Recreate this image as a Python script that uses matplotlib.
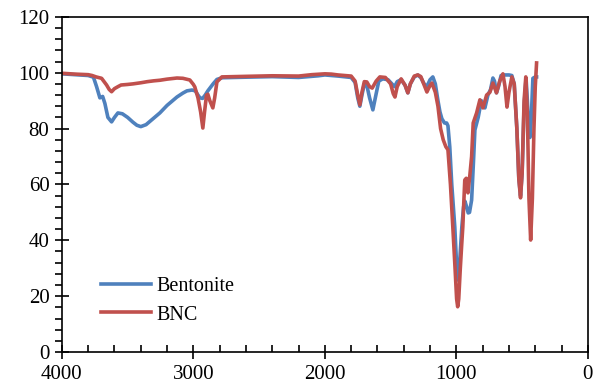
import matplotlib.pyplot as plt
from matplotlib.ticker import MultipleLocator

# wavenumber (cm-1) and transmittance (%)
bent_wn = [4000, 3900, 3800, 3760, 3736, 3711, 3690, 3673, 3650, 3622, 3600,
           3574, 3540, 3500, 3460, 3430, 3400, 3360, 3300, 3255, 3200, 3150,
           3125, 3080, 3049, 3010, 2985, 2965, 2950, 2930, 2910, 2890, 2874,
           2850, 2821, 2780, 2600, 2400, 2200, 2050, 2000, 1900, 1800, 1770,
           1750, 1734, 1718, 1700, 1681, 1660, 1635, 1612, 1590, 1560, 1520,
           1490, 1470, 1450, 1420, 1390, 1369, 1350, 1320, 1293, 1270, 1245,
           1225, 1200, 1179, 1160, 1140, 1125, 1110, 1090, 1074, 1064, 1050,
           1035, 1012, 1000, 990, 980, 970, 958, 945, 935, 922, 910, 900,
           884, 870, 859, 834, 810, 800, 783, 760, 740, 722, 710, 695, 680,
           660, 640, 600, 578, 560, 540, 525, 512, 500, 485, 470, 460, 450,
           441, 432, 418, 400, 390]
bent_t = [99.6, 99.3, 99.0, 98.4, 95.0, 91.0, 91.5, 89.0, 84.0, 82.4, 84.0,
          85.6, 85.3, 84.0, 82.3, 81.2, 80.7, 81.4, 83.8, 85.6, 88.3, 90.3,
          91.3, 92.7, 93.5, 93.8, 93.5, 92.0, 91.0, 90.8, 92.0, 93.5, 94.5,
          96.0, 97.6, 98.2, 98.4, 98.6, 98.3, 98.9, 99.2, 98.8, 98.3, 96.5,
          91.0, 88.0, 92.0, 96.0, 95.5, 91.0, 86.7, 92.0, 97.0, 97.8, 97.5,
          96.0, 95.0, 96.8, 97.5, 95.5, 92.8, 96.0, 98.5, 99.2, 98.2, 96.0,
          95.0, 97.5, 98.5, 96.0, 90.0, 86.0, 83.5, 82.0, 82.0, 81.0, 73.4,
          60.0, 44.8, 33.0, 25.8, 28.0, 36.0, 45.0, 52.0, 54.0, 52.0, 49.8,
          50.0, 54.4, 68.0, 79.5, 84.0, 90.0, 89.0, 87.4, 92.0, 94.0, 98.1,
          97.0, 92.8, 95.0, 99.0, 99.2, 99.2, 99.0, 96.0, 80.0, 62.0, 56.0,
          64.0, 88.0, 98.0, 90.0, 80.0, 76.8, 82.0, 98.0, 98.5, 98.5]

bnc_wn = [4000, 3900, 3800, 3770, 3740, 3698, 3660, 3640, 3622, 3600, 3574,
          3550, 3500, 3460, 3400, 3350, 3300, 3255, 3200, 3125, 3080, 3027,
          3000, 2989, 2965, 2945, 2928, 2915, 2900, 2890, 2875, 2852, 2838,
          2821, 2783, 2600, 2400, 2200, 2100, 2000, 1950, 1900, 1800, 1770,
          1750, 1734, 1718, 1700, 1681, 1660, 1640, 1610, 1582, 1540, 1500,
          1480, 1467, 1450, 1420, 1390, 1369, 1350, 1320, 1293, 1270, 1240,
          1224, 1205, 1186, 1160, 1140, 1120, 1100, 1080, 1064, 1045, 1027,
          1010, 998, 990, 982, 970, 960, 951, 943, 936, 925, 912, 898, 884,
          872, 846, 821, 798, 770, 745, 722, 695, 670, 646, 630, 615, 600,
          578, 560, 540, 525, 512, 500, 485, 472, 460, 448, 435, 422, 410,
          400, 390]
bnc_t = [99.8, 99.5, 99.3, 99.0, 98.5, 98.0, 95.6, 94.0, 93.2, 94.3, 95.0,
         95.6, 95.8, 96.0, 96.4, 96.8, 97.1, 97.3, 97.7, 98.1, 98.0, 97.4,
         95.8, 94.9, 91.0, 86.0, 80.2, 86.0, 92.0, 92.3, 90.0, 87.4, 91.0,
         96.7, 98.5, 98.7, 98.9, 98.8, 99.3, 99.6, 99.5, 99.2, 98.8, 97.0,
         92.0, 88.5, 93.0, 96.8, 96.7, 95.0, 94.5, 97.0, 98.5, 98.3, 96.0,
         92.5, 91.3, 95.0, 97.8, 95.5, 92.8, 96.0, 98.8, 99.2, 98.6, 95.0,
         93.1, 95.0, 96.3, 93.0, 88.0, 80.0, 76.0, 73.5, 72.4, 60.0, 44.8,
         30.0, 19.0, 16.2, 19.0, 30.0, 38.0, 44.8, 54.0, 61.6, 62.2, 57.0,
         63.0, 70.0, 82.0, 85.6, 90.3, 87.4, 92.0, 93.0, 96.3, 92.8, 97.0,
         99.6, 95.0, 87.7, 93.0, 98.5, 96.0, 80.0, 62.0, 55.2, 64.0, 90.0,
         98.5, 85.0, 55.0, 40.1, 55.0, 80.0, 95.0, 103.5]

plt.rcParams['font.family'] = ['Liberation Serif', 'DejaVu Serif']

fig = plt.figure(figsize=(5.95, 3.92), dpi=100)
ax = fig.add_axes([0.104, 0.102, 0.884, 0.855])

ax.plot(bent_wn, bent_t, color='#4F81BD', lw=2.6, label='Bentonite')
ax.plot(bnc_wn, bnc_t, color='#C0504D', lw=2.6, label='BNC')

ax.set_xlim(4000, 0)
ax.set_ylim(0, 120)
ax.xaxis.set_major_locator(MultipleLocator(1000))
ax.xaxis.set_minor_locator(MultipleLocator(200))
ax.yaxis.set_major_locator(MultipleLocator(20))
ax.yaxis.set_minor_locator(MultipleLocator(4))

ax.tick_params(axis='both', which='major', direction='inout', length=10,
               width=1.2, labelsize=15, pad=4)
ax.tick_params(axis='x', which='minor', direction='in', length=5, width=1.2)
ax.tick_params(axis='y', which='minor', direction='out', length=5, width=1.2)
for s in ax.spines.values():
    s.set_linewidth(1.2)

ax.legend(loc='lower left', bbox_to_anchor=(0.04, 0.028), frameon=False,
          fontsize=14.5, handlelength=2.5, labelspacing=0.45, handletextpad=0.25)

fig.savefig('out.png', dpi=100)
